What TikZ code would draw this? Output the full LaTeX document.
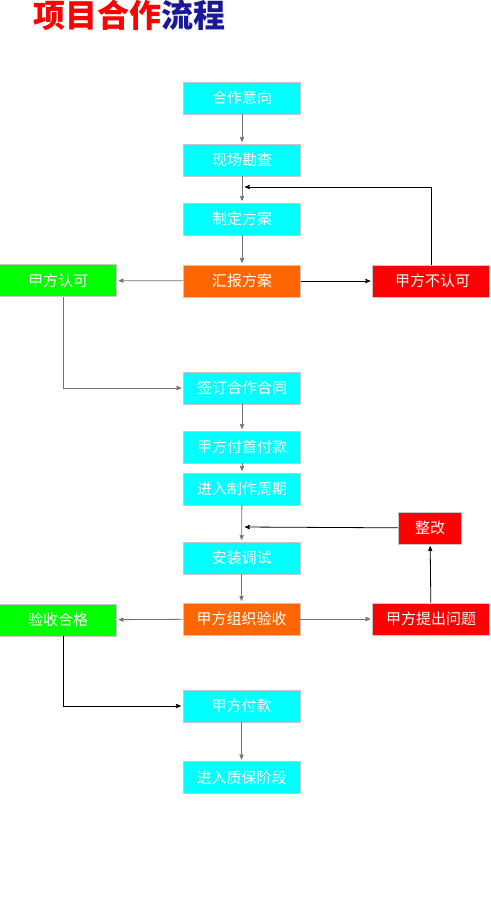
\documentclass[tikz,border=0pt]{standalone}
\usepackage{fontspec}
\newfontfamily\cjk{Noto Sans CJK SC}
\usetikzlibrary{arrows,shapes}
\definecolor{titlered}{RGB}{255,0,0}
\definecolor{titleblue}{RGB}{25,25,150}
\definecolor{boxcyan}{RGB}{0,255,255}
\definecolor{boxorange}{RGB}{255,102,0}
\definecolor{boxred}{RGB}{255,0,0}
\definecolor{boxgreen}{RGB}{0,255,0}
\tikzset{
  boxnode/.style = {rectangle, align=center, inner sep=0pt, text centered,
    font=\cjk\fontsize{15}{15}\selectfont, white, draw=gray!45, line width=0.6pt,
    minimum width=117pt, minimum height=32pt},
  box_c/.style = {boxnode, fill=boxcyan},% etape normale
  box_o/.style = {boxnode, fill=boxorange},% etape de decision
  box_r/.style = {boxnode, fill=boxred},% refus, correction
  box_g/.style = {boxnode, fill=boxgreen},% accord
  link_g/.style = {->, gray!90!black, line width=0.8pt, shorten >=2pt},% lien gris
  link_b/.style = {->, black, line width=0.8pt, shorten >=2pt}% lien noir
}
\begin{document}
\begin{tikzpicture}[x=1pt,y=-1pt,>=stealth']
\useasboundingbox (0,0) rectangle (490,907);
\node (title) at (129,15) {\cjk\bfseries\fontsize{32}{32}\selectfont
  \textcolor{titlered}{项目合作}\textcolor{titleblue}{流程}};
\node [box_c] (yixiang) at (242,98) {合作意向};
\node [box_c] (kancha) at (242,160) {现场勘查};
\node [box_c] (zhiding) at (242,219) {制定方案};
\node [box_o] (huibao) at (242,281) {汇报方案};
\node [box_r] (burenke) at (431,281) {\ 甲方不认可};
\node [box_g] (renke) at (58,280.5) {甲方认可};
\node [box_c] (hetong) at (242,388) {签订合作合同};
\node [box_c] (shoufu) at (242,447) {甲方付首付款};
\node [box_c] (zhouqi) at (242,489) {进入制作周期};
\node [box_r, minimum width=63pt] (zhenggai) at (430,528) {整改};
\node [box_c] (tiaoshi) at (241.5,558) {安装调试};
\node [box_o] (yanshou) at (241.5,619) {甲方组织验收};
\node [box_r] (wenti) at (431,619) {甲方提出问题};
\node [box_g] (hege) at (58,620) {验收合格};
\node [box_c] (fukuan) at (241.5,706) {甲方付款};
\node [box_c] (zhibao) at (241.5,777.5) {进入质保阶段};
\coordinate (back1) at (243,187);
\coordinate (back2) at (243,527);
% main flow
\draw [link_g] (yixiang) -- (kancha);
\draw [link_g] (kancha) -- (zhiding);
\draw [link_g] (zhiding) -- (huibao);
\draw [link_b] (huibao) -- (burenke);
\draw [link_b] (burenke.north) |- (back1);
\draw [link_g] (huibao) -- (renke);
\draw [link_g] ([xshift=5pt]renke.south) |- (hetong.west);
\draw [link_g] (hetong) -- (shoufu);
\draw [link_g] (shoufu) -- (zhouqi);
\draw [link_g] (zhouqi) -- (tiaoshi);
\draw [link_g] (tiaoshi) -- (yanshou);
\draw [link_g] (yanshou) -- (wenti);
\draw [link_b] (wenti) -- (zhenggai);
\draw [link_b] (zhenggai) -- (back2);
\draw [link_g] (yanshou) -- (hege);
\draw [link_b] ([xshift=5pt]hege.south) |- (fukuan.west);
\draw [link_g] (fukuan) -- (zhibao);
\end{tikzpicture}
\end{document}
